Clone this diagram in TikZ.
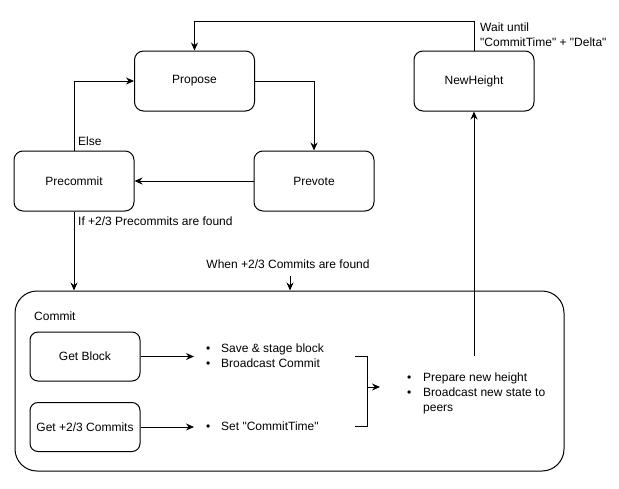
\documentclass[tikz,border=0pt]{standalone}
\usepackage{fontspec}
\setmainfont{Liberation Sans}[Ligatures=TeXOff]
\usetikzlibrary{arrows.meta}
\newcommand{\dq}{\symbol{34}}
\begin{document}
\begin{tikzpicture}[x=1pt,y=-1pt, font=\fontsize{12}{15}\selectfont,
  state/.style={draw, rounded corners=9pt, minimum width=120pt, minimum height=60pt, inner sep=0pt, line width=1pt},
  sub/.style={draw, rounded corners=8pt, minimum width=110pt, minimum height=49pt, inner sep=0pt, line width=1pt},
  arr/.style={-{Stealth[length=8pt,width=7pt]}, line width=1pt},
  plain/.style={line width=1pt},
  lbl/.style={inner sep=0pt, anchor=west, align=left}]
\useasboundingbox (0,0) rectangle (619,488);

% states
\node[state] (prop) at (194.5,81) {Propose};
\node[state] (nh) at (474,81) {NewHeight};
\node[state] (pc) at (74,181) {Precommit};
\node[state] (pv) at (314,181) {Prevote};

% commit container
\node[draw, rounded corners=22pt, minimum width=549pt, minimum height=180pt, inner sep=0pt, line width=1pt] (commit) at (289.5,381) {};
\node[lbl] (commitlbl) at (34,316) {Commit};
\node[sub] (gb) at (85,356.5) {Get Block};
\node[sub] (gc) at (85,427) {Get +2/3 Commits};

% lists
\node[lbl] (l1) at (206,355.5) {\makebox[15pt][l]{\textbullet}Save \& stage block\\\makebox[15pt][l]{\textbullet}Broadcast Commit};
\node[lbl] (l2) at (206,426) {\makebox[15pt][l]{\textbullet}Set \dq CommitTime\dq};
\node[lbl] (l3) at (407,393) {\makebox[16pt][l]{\textbullet}Prepare new height\\\makebox[16pt][l]{\textbullet}Broadcast new state to\\\hspace*{16pt}peers};

% labels
\node[lbl] (else) at (78,141) {Else};
\node[lbl] (iflbl) at (78,221) {If +2/3 Precommits are found};
\node[inner sep=0pt] (when) at (288,264) {When +2/3 Commits are found};
\node[lbl] (wait) at (480,35) {Wait until\\\dq CommitTime\dq{} + \dq Delta\dq};

% coordinates
\coordinate (top) at (474,21);
\coordinate (wc) at (290,276);
\coordinate (a1) at (194,356.5);
\coordinate (a2) at (194,427);
\coordinate (b1) at (355,356);
\coordinate (b2) at (367,356);
\coordinate (b3) at (367,426);
\coordinate (b4) at (355,426);
\coordinate (bm) at (367,387);
\coordinate (be) at (380,387);
\coordinate (nhs) at (474,356);

% connectors
\draw[arr] (nh.north) -- (top) -| (prop.north);
\draw[arr] (prop.east) -| (pv.north);
\draw[arr] (pv.west) -- (pc.east);
\draw[arr] (pc.north) |- (prop.west);
\draw[arr] (pc.south) -- (pc.south |- commit.north);
\draw[arr] (wc) -- (wc |- commit.north);
\draw[arr] (gb.east) -- (a1);
\draw[arr] (gc.east) -- (a2);
\draw[plain] (b1) -- (b2) -- (b3) -- (b4);
\draw[arr] (bm) -- (be);
\draw[arr] (nhs) -- (nh.south);
\end{tikzpicture}
\end{document}
